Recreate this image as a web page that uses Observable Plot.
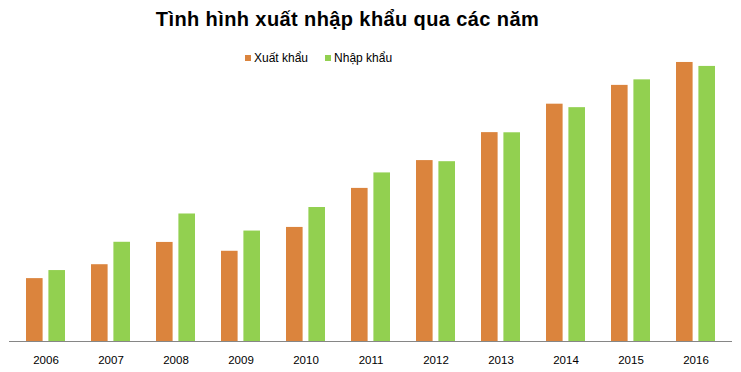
<!DOCTYPE html>
<html>
<head>
<meta charset="utf-8">
<script src="https://cdn.jsdelivr.net/npm/d3@7"></script>
<script src="https://cdn.jsdelivr.net/npm/@observablehq/plot@0.6"></script>
<style>
  html, body { margin: 0; padding: 0; background: #fff; }
  #wrap { position: relative; width: 741px; height: 372px; font-family: "Liberation Sans", Arial, sans-serif; }
  #title { position: absolute; left: 0; width: 741px; top: 8px; text-align: center; font-weight: bold; font-size: 20px; letter-spacing: 0.4px; color: #000; }
  #title span { position: relative; left: -23px; }
  #legend { position: absolute; top: 51px; left: 245px; font-size: 12px; color: #000; white-space: nowrap; }
  .sw { display: inline-block; width: 6px; height: 6px; margin-right: 3px; vertical-align: 1px; }
  .item { display: inline-block; margin-right: 17px; }
  #chart { position: absolute; left: 0; top: 0; }
</style>
</head>
<body>
<div id="wrap">
  <div id="chart"></div>
  <div id="title"><span>Tình hình xuất nhập khẩu qua các năm</span></div>
  <div id="legend"></div>
</div>
<script>
const years = ["2006","2007","2008","2009","2010","2011","2012","2013","2014","2015","2016"];
const seriesNames = ["Xuất khẩu", "Nhập khẩu"];
const exportsVals = [39.8, 48.6, 62.7, 57.1, 72.2, 96.9, 114.5, 132.2, 150.2, 162.1, 176.6];
const importsVals = [44.9, 62.8, 80.7, 69.9, 84.8, 106.7, 113.8, 132.1, 148.0, 165.6, 174.1];
const colors = ["#DB843D", "#92D050"];

const exportsData = years.map((y, i) => ({year: y, value: exportsVals[i], series: seriesNames[0]}));
const importsData = years.map((y, i) => ({year: y, value: importsVals[i], series: seriesNames[1]}));

const chart = Plot.plot({
  width: 741,
  height: 372,
  marginLeft: 9,
  marginRight: 9,
  marginTop: 25,
  marginBottom: 31,
  style: {fontFamily: '"Liberation Sans", Arial, sans-serif', fontSize: "11.5px", color: "#000", background: "transparent"},
  x: {domain: years, paddingInner: 0.4, paddingOuter: 0.2, label: null, tickSize: 0, tickPadding: 14},
  y: {domain: [0, 200], axis: null},
  color: {domain: seriesNames, range: colors},
  marks: [
    Plot.barY(exportsData, {x: "year", y: "value", fill: "series", insetRight: 22.4}),
    Plot.barY(importsData, {x: "year", y: "value", fill: "series", insetLeft: 22.4}),
    Plot.ruleY([0], {stroke: "#868686", strokeWidth: 1.2})
  ]
});
document.getElementById("chart").appendChild(chart);

const legend = document.getElementById("legend");
seriesNames.forEach((name, i) => {
  const item = document.createElement("span");
  item.className = "item";
  const sw = document.createElement("span");
  sw.className = "sw";
  sw.style.background = colors[i];
  item.appendChild(sw);
  item.appendChild(document.createTextNode(name));
  legend.appendChild(item);
});
</script>
</body>
</html>
